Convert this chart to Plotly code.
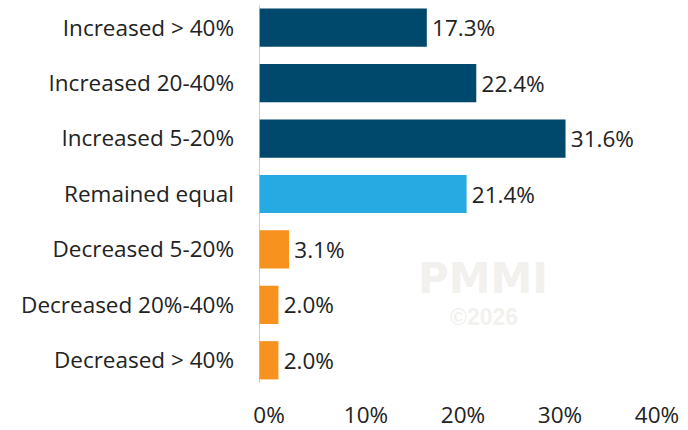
import plotly.graph_objects as go

categories = ["Increased > 40%", "Increased 20-40%", "Increased 5-20%", "Remained equal",
              "Decreased 5-20%", "Decreased 20%-40%", "Decreased > 40%"]
values = [17.3, 22.4, 31.6, 21.4, 3.1, 2.0, 2.0]
colors = ["#00486c", "#00486c", "#00486c", "#27a9e1", "#f7921e", "#f7921e", "#f7921e"]
tick_vals = [0, 10, 20, 30, 40]
tick_text = ["0%", "10%", "20%", "30%", "40%"]

FONT = "Open Sans"
FS = 22.5

fig = go.Figure(go.Bar(
    x=values, y=categories, orientation="h",
    marker=dict(color=colors, line=dict(width=0)),
    texttemplate="\u200a%{x:.1f}%", textposition="outside",
    textfont=dict(family=FONT, size=FS, color="#222222"),
    cliponaxis=False, hoverinfo="skip",
))

fig.update_layout(
    width=688, height=430,
    margin=dict(l=259, r=41, t=0, b=42, autoexpand=False),
    paper_bgcolor="white", plot_bgcolor="white",
    bargap=0.31, showlegend=False,
    font=dict(family=FONT, size=FS, color="#222222"),
    xaxis=dict(range=[0, 40], tickvals=tick_vals, ticktext=tick_text, showgrid=False,
               zeroline=False, showline=False, ticks="", ticklabelstandoff=11, automargin=False,
               ticklabelshift=10,
               tickfont=dict(family=FONT, size=FS, color="#222222")),
    yaxis=dict(categoryorder="array", categoryarray=categories[::-1], showgrid=False,
               zeroline=False, showline=False, ticks="", ticklabelstandoff=24, automargin=False,
               tickfont=dict(family=FONT, size=FS, color="#222222")),
    shapes=[dict(type="line", xref="x", yref="paper", x0=0, x1=0, y0=0.013, y1=0.987,
                 line=dict(color="#bdbdbd", width=1.5))],
    annotations=[
        dict(text="PMMI", x=0.577, y=0.281, xref="paper", yref="paper", showarrow=False,
             xanchor="center", yanchor="middle",
             font=dict(family="DejaVu Sans", size=42, color="#f2f1ee", weight="bold")),
        dict(text="©2026", x=0.579, y=0.184, xref="paper", yref="paper", showarrow=False,
             xanchor="center", yanchor="middle",
             font=dict(family="Liberation Sans", size=23, color="#f2f1ee", weight="bold")),
    ],
)

fig.write_html("out.html", config={"displayModeBar": False},
               post_script="document.body.style.margin='0';")
